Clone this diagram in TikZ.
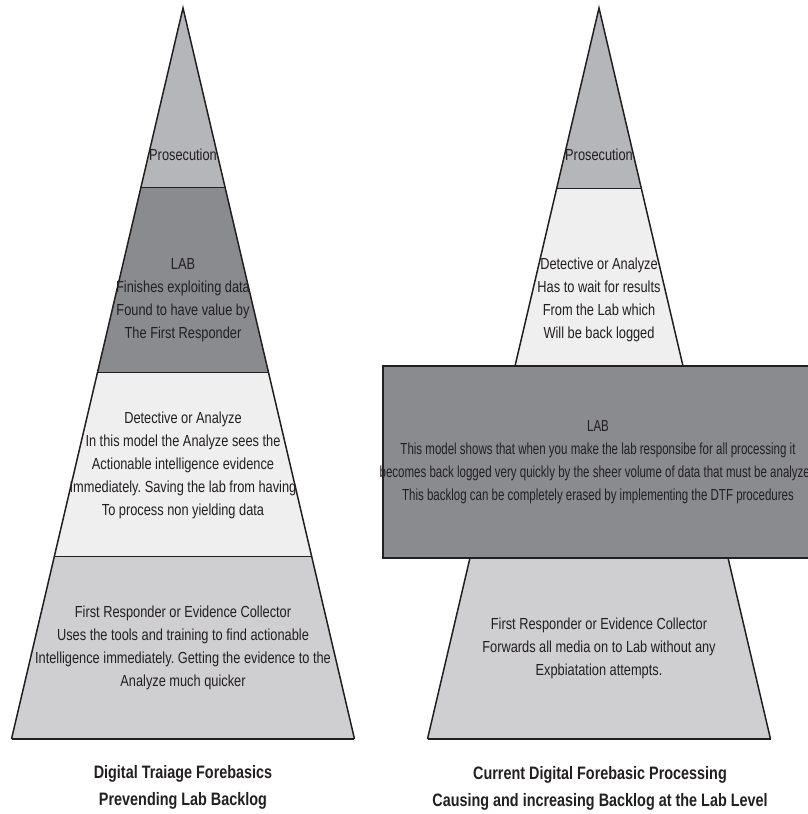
\documentclass[tikz,border=0pt]{standalone}
\usepackage{fontspec}
\setmainfont[FakeStretch=0.8]{Liberation Sans}
\newfontfamily\narrowfont[FakeStretch=0.72]{Liberation Sans}
\usetikzlibrary{calc}
\definecolor{ink}{HTML}{231F20}
\definecolor{toptone}{HTML}{B5B6BA}
\definecolor{labtone}{HTML}{8A8B8E}
\definecolor{lighttone}{HTML}{EFEFEF}
\definecolor{basetone}{HTML}{CFCFD1}
\frenchspacing

\begin{document}
\begin{tikzpicture}[x=1pt,y=-1pt]

        \useasboundingbox (0,0) rectangle (808,814);
        \clip (0,0) rectangle (808,814);

        \tikzstyle{every node}=[align=center,inner sep=0pt,text=ink,font=\fontsize{16}{23}\selectfont]
        \tikzstyle{edge}=[draw=ink,line width=1.5pt]

        % left pyramid
        \foreach \ya / \yb / \col in {8/188/toptone,188/373/labtone,373/557/lighttone,557/739/basetone} {
            \fill[\col] ({183-0.2346*(\ya-8)},\ya) -- ({183+0.2346*(\ya-8)},\ya) -- ({183+0.2346*(\yb-8)},\yb) -- ({183-0.2346*(\yb-8)},\yb) -- cycle;
            \draw[edge] ({183-0.2346*(\yb-8)},\yb) -- ({183+0.2346*(\yb-8)},\yb);
        }
        \draw[edge,line join=miter] (11.5,739) -- (183,8) -- (354.5,739);

        % right pyramid
        \begin{scope}[xshift=416]
            \foreach \ya / \yb / \col in {8/189/toptone,189/366/lighttone,366/558/lighttone,558/739/basetone} {
                \fill[\col] ({183-0.2346*(\ya-8)},\ya) -- ({183+0.2346*(\ya-8)},\ya) -- ({183+0.2346*(\yb-8)},\yb) -- ({183-0.2346*(\yb-8)},\yb) -- cycle;
                \draw[edge] ({183-0.2346*(\yb-8)},\yb) -- ({183+0.2346*(\yb-8)},\yb);
            }
            \draw[edge,line join=miter] (11.5,739) -- (183,8) -- (354.5,739);
        \end{scope}
        \draw[edge,fill=labtone] (383,366) rectangle (840,558);

        \node (prosL) at (183,155) {Prosecution};
        \node (labL) at (183,300) {LAB\\Finishes exploiting data\\Found to have value by\\The First Responder};
        \node (detL) at (183,465) {Detective or Analyze\\In this model the Analyze sees the\\Actionable intelligence evidence\\Immediately. Saving the lab from having\\To process non yielding data};
        \node (firstL) at (183,648) {First Responder or Evidence Collector\\Uses the tools and training to find actionable\\Intelligence immediately. Getting the evidence to the\\Analyze much quicker};
        \node[font=\bfseries\fontsize{18}{27}\selectfont] (capL) at (183,787) {Digital Traiage Forebasics\\Prevending Lab Backlog};

        \node (prosR) at (599,155) {Prosecution};
        \node (detR) at (599,300) {Detective or Analyze\\Has to wait for results\\From the Lab which\\Will be back logged};
        \node[font=\narrowfont\fontsize{16}{23}\selectfont] (labR) at (598,462) {LAB\\This model shows that when you make the lab responsibe for all processing it\\becomes back logged very quickly by the sheer volume of data that must be analyzed\\This backlog can be completely erased by implementing the DTF procedures};
        \node (firstR) at (599,648) {First Responder or Evidence Collector\\Forwards all media on to Lab without any\\Expbiatation attempts.};
        \node[font=\bfseries\fontsize{18}{27}\selectfont] (capR) at (600,788) {Current Digital Forebasic Processing\\Causing and increasing Backlog at the Lab Level};

\end{tikzpicture}
\end{document}
